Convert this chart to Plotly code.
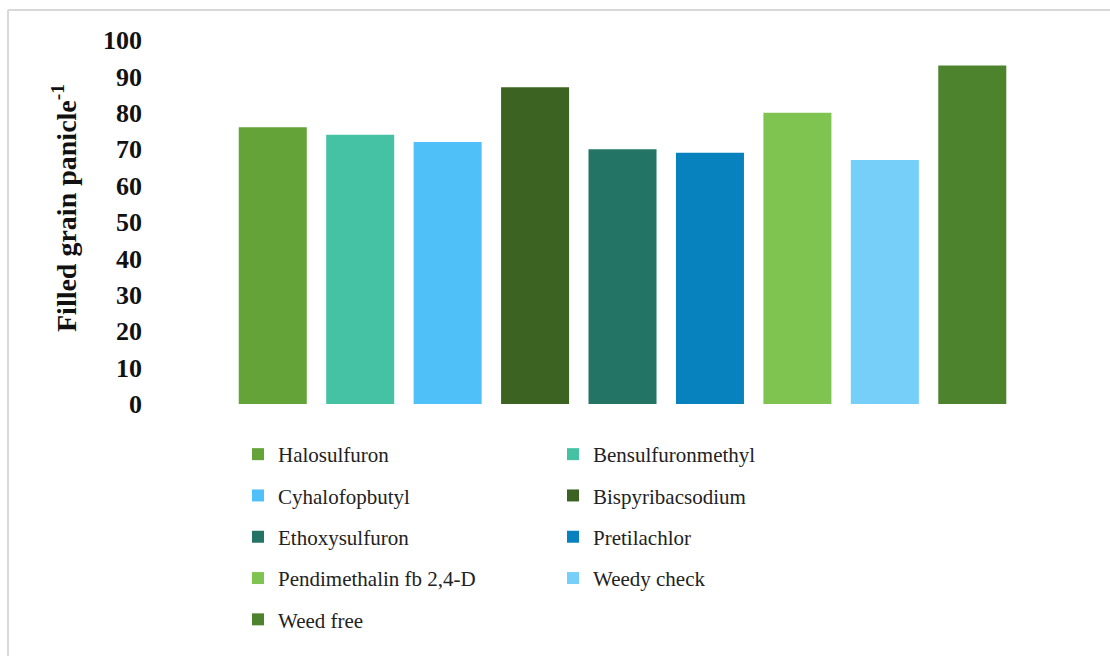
import plotly.graph_objects as go

categories = ["Halosulfuron", "Bensulfuronmethyl", "Cyhalofopbutyl", "Bispyribacsodium",
              "Ethoxysulfuron", "Pretilachlor", "Pendimethalin fb 2,4-D", "Weedy check", "Weed free"]
values = [76, 74, 72, 87, 70, 69, 80, 67, 93]
colors = ["#63A338", "#44C2A3", "#4FC1F8", "#3C6322", "#247465",
          "#0782BE", "#7FC451", "#75CFF8", "#4E832E"]
legend_column = ["legend", "legend2", "legend", "legend2", "legend",
                 "legend2", "legend", "legend2", "legend"]
y_ticks = [0, 10, 20, 30, 40, 50, 60, 70, 80, 90, 100]

W, H = 1110, 656
ML, MR, MT, MB = 143, 94, 40, 252
pw = W - ML - MR
ph = H - MT - MB

def px_x(px):
    return (px - ML) / pw

def px_y(py):
    return (H - MB - py) / ph

fig = go.Figure()
for i, (cat, val, col, lg) in enumerate(zip(categories, values, colors, legend_column)):
    fig.add_trace(go.Bar(
        x=[i], y=[val], name=cat, legendgroup=cat, legend=lg,
        marker=dict(color=col, line=dict(width=0)),
        hoverinfo="name+y",
    ))

serif = "Liberation Serif, Times New Roman, serif"
legend_common = dict(
    orientation="v", yanchor="top", xanchor="left",
    font=dict(family=serif, size=21, color="#222222"),
    bgcolor="rgba(0,0,0,0)", tracegroupgap=11, itemwidth=30,
)

fig.update_layout(
    width=W, height=H,
    margin=dict(l=ML, r=MR, t=MT, b=MB, pad=0),
    paper_bgcolor="white", plot_bgcolor="white",
    barmode="overlay", bargap=0.222,
    xaxis=dict(range=[-0.5 - (229 - ML) / 87.4, 8.5], showticklabels=False,
               showgrid=False, zeroline=False, showline=False, ticks=""),
    yaxis=dict(range=[0, 100], tickvals=y_ticks, showgrid=False, zeroline=False,
               showline=False, ticks="",
               tickfont=dict(family=serif, size=26, color="#111111", weight="bold")),
    annotations=[
        dict(text="Filled grain panicle<sup>-1</sup>", textangle=-90,
             xref="paper", yref="paper", x=px_x(64), y=px_y(208),
             xanchor="center", yanchor="middle", showarrow=False,
             font=dict(family=serif, size=28, color="#111111", weight="bold")),
    ],
    legend=dict(x=px_x(238), y=px_y(434), **legend_common),
    legend2=dict(x=px_x(553), y=px_y(434), **legend_common),
    shapes=[
        dict(type="line", xref="paper", yref="paper", x0=px_x(8), x1=px_x(W + 5),
             y0=px_y(10), y1=px_y(10), line=dict(color="#d9d9d9", width=2)),
        dict(type="line", xref="paper", yref="paper", x0=px_x(8), x1=px_x(8),
             y0=px_y(10), y1=px_y(H + 5), line=dict(color="#d9d9d9", width=2)),
    ],
)

fig.write_html("out.html", config={"displayModeBar": False},
               post_script="document.body.style.margin='0';document.body.style.overflow='hidden';")
